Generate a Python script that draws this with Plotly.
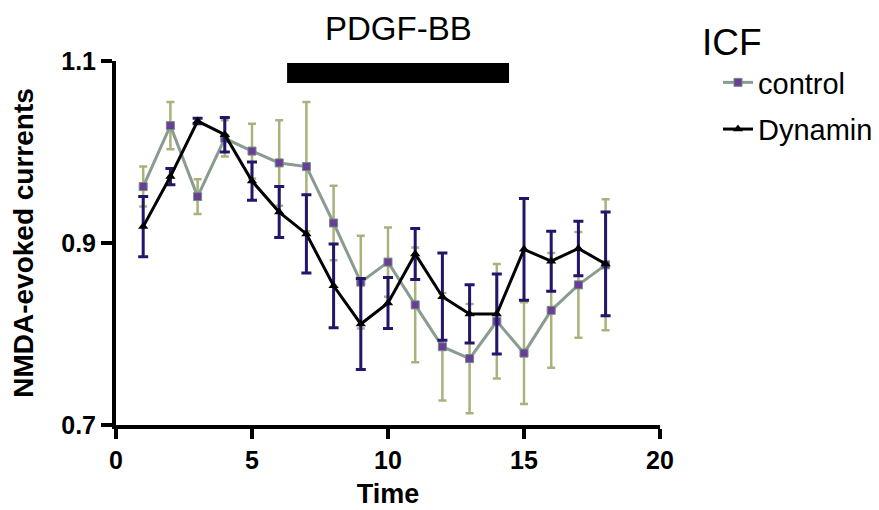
import plotly.graph_objects as go

time = list(range(1, 19))
control = [0.962, 1.029, 0.951, 1.015, 1.001, 0.988, 0.984, 0.922, 0.857, 0.879,
           0.832, 0.786, 0.773, 0.814, 0.779, 0.826, 0.854, 0.876]
control_err = [0.022, 0.026, 0.019, 0.020, 0.030, 0.047, 0.071, 0.041, 0.051, 0.038,
               0.063, 0.059, 0.060, 0.063, 0.056, 0.063, 0.058, 0.072]
dynamin = [0.918, 0.973, 1.034, 1.019, 0.968, 0.934, 0.910, 0.853, 0.811, 0.834,
           0.888, 0.841, 0.822, 0.822, 0.893, 0.880, 0.894, 0.877]
dynamin_err = [0.033, 0.009, 0.003, 0.019, 0.021, 0.028, 0.043, 0.046, 0.050, 0.028,
               0.028, 0.048, 0.032, 0.044, 0.056, 0.033, 0.030, 0.057]

pdgf_start, pdgf_end = 6.29, 14.45
x_ticks = [0, 5, 10, 15, 20]
y_ticks = [0.7, 0.9, 1.1]

FONT = "Liberation Sans, Arial"

# page body has an 8px margin; figure sized so the page does not overflow
OFF = 8
W, H = 879 - OFF, 510 - OFF
L, T = 116 - OFF, 61 - OFF
R = W - (660 - OFF)
B = H - (425 - OFF)
pw, ph = W - L - R, H - T - B


def px_x(px):
    return (px - OFF - L) / pw


def px_y(py):
    return (H - B - (py - OFF)) / ph


fig = go.Figure()
fig.add_trace(go.Scatter(
    x=time, y=control, name="control", mode="lines+markers", legendgroup="a",
    line=dict(color="#8a9c90", width=3),
    marker=dict(symbol="square", size=8, color="#6a3d9a", line=dict(color="#6f8f7a", width=1)),
    error_y=dict(type="data", array=control_err, color="#a9b27c", thickness=2.5, width=4),
))
fig.add_trace(go.Scatter(
    x=time, y=dynamin, name="Dynamin", mode="lines+markers", legendgroup="b",
    line=dict(color="black", width=3),
    marker=dict(symbol="triangle-up", size=9, color="black"),
    error_y=dict(type="data", array=dynamin_err, color="#22156a", thickness=3, width=5),
))

fig.add_shape(type="rect", xref="x", yref="y", x0=pdgf_start, x1=pdgf_end,
              y0=1.0758, y1=1.0978, fillcolor="black", line=dict(width=0))
fig.add_annotation(x=(pdgf_start + pdgf_end) / 2, y=1.1, xref="x", yref="y",
                   text="PDGF-BB", showarrow=False, yshift=33,
                   font=dict(family=FONT, size=33, color="black"))
fig.add_annotation(x=px_x(700), y=px_y(43), xref="paper", yref="paper", text="ICF",
                   showarrow=False, xanchor="left", yanchor="middle",
                   font=dict(family=FONT, size=37, color="black"))

axis_font = dict(family=FONT, size=25, color="black")
fig.update_layout(
    width=W, height=H,
    margin=dict(l=L, r=R, t=T, b=B, autoexpand=False),
    plot_bgcolor="white", paper_bgcolor="white",
    font=dict(family=FONT, color="black"),
    xaxis=dict(range=[0, 20], tickvals=x_ticks, ticktext=[f"<b>{v}</b>" for v in x_ticks],
               showgrid=False, zeroline=False, showline=True, linecolor="black", linewidth=4,
               ticks="outside", ticklen=10, tickwidth=4, tickcolor="black",
               tickfont=axis_font, automargin=False,
               title=dict(text="<b>Time</b>", font=dict(family=FONT, size=27), standoff=12)),
    yaxis=dict(range=[0.7, 1.1], tickvals=y_ticks, ticktext=[f"<b>{v}</b>" for v in y_ticks],
               showgrid=False, zeroline=False, showline=True, linecolor="black", linewidth=4,
               ticks="outside", ticklen=11, tickwidth=4, tickcolor="black",
               tickfont=axis_font, automargin=False,
               title=dict(text="<b>NMDA-evoked currents</b>", font=dict(family=FONT, size=28), standoff=22)),
    legend=dict(x=px_x(718), y=px_y(57), xanchor="left", yanchor="top",
                font=dict(size=29, family=FONT), traceorder="grouped",
                tracegroupgap=6, bgcolor="rgba(0,0,0,0)"),
    showlegend=True,
)

fig.write_html("out.html")
